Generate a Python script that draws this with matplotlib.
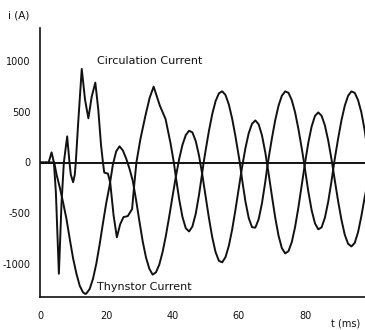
from matplotlib import pyplot as plt

# circulation current (upper label), time in ms and current in A
circ_t = [0, 2.6, 3.5, 4.2, 4.8, 5.7, 6.5, 7.2, 8.2, 8.9, 9.3, 10, 10.5, 10.8, 11.5, 12.6,
          13.6, 14.6, 15.6, 16.7, 17.6, 18.4, 19.0, 19.4, 20.5, 21.2, 22.2, 23.2, 24.2, 25.2,
          26.5, 27.8, 28.5, 29.1, 30.3, 31.8, 33.1, 34.3, 36.2, 37.9, 39.4, 40.4,
          41, 42, 43, 44, 45, 46, 47, 48, 49, 49.4, 50, 51, 52, 53, 54, 55, 56, 57, 58, 59,
          60, 60.3, 61, 62, 63, 64, 65, 66, 67, 68, 68.8, 69, 70, 71, 72, 73, 74, 75, 76, 77,
          78, 79, 79.7, 80, 81, 82, 83, 84, 85, 86, 87, 88, 88.8, 89, 90, 91, 92, 93, 94, 95,
          96, 97, 98, 98.6]
circ_i = [0, 0, 100, 0, -300, -1100, -400, 0, 258, 0, -120, -195, -120, 0, 380, 925,
          620, 437, 650, 790, 520, 180, 0, -100, -110, -200, -520, -740, -610, -540,
          -530, -460, -200, 0, 230, 460, 640, 750, 560, 430, 190, 0,
          -142, -362, -538, -650, -682, -633, -508, -320, -95, 0, 121, 314, 480, 607, 684, 704,
          667, 574, 434, 258,
          61, 0, -167, -384, -549, -640, -644, -561, -403, -191, 0, 41, 239, 418, 562, 660, 703,
          689, 617, 496,
          332, 141, 0, -69, -288, -473, -602, -661, -641, -546, -387, -182, 0, 41, 239, 418,
          562, 660, 703, 689,
          617, 496, 320, 180]

# thyristor current (lower label)
thy_t = [0, 4.3, 5, 6, 7, 8, 9, 10, 11, 12, 13, 13.7, 14, 15, 16, 17, 18, 19, 20, 21, 22,
         23, 24, 25, 26, 27, 28, 29, 30, 31, 32, 33, 34, 35, 36, 37, 38, 39, 40, 41, 42, 43,
         44, 45, 46, 47, 48, 49, 50, 51, 52, 53, 54, 55, 56, 57, 58, 59, 60, 61, 62, 63, 64,
         65, 66, 67, 68, 69, 70, 71, 72, 73, 74, 75, 76, 77, 78, 79, 80, 81, 82, 83, 84, 85,
         86, 87, 88, 89, 90, 91, 92, 93, 94, 95, 96, 97, 98, 98.6]
thy_i = [0, 0, -120, -250, -400, -560, -760, -950, -1100, -1220, -1285, -1300, -1295, -1250,
         -1150, -1000, -810, -600, -400, -230, -20, 110, 160, 120, 40, -60, -180, -370, -580,
         -780, -940, -1050, -1109, -1086, -1010, -886, -723, -535, -336, -142, 33, 174, 271,
         314, 298, 213, 68, -123, -337, -551, -741, -887, -972, -987, -935, -824, -663, -467,
         -255, -45, 141, 290, 383, 416, 378, 269, 100, -108, -331, -545, -723, -846, -899,
         -877, -787, -637, -443, -224, -4, 198, 357, 461, 495, 462, 366, 217, 29, -179, -385,
         -568, -715, -804, -830, -795, -690, -530, -345, -250]

x_ticks = [0, 20, 40, 60, 80]
y_ticks = [1000, 500, 0, -500, -1000]


def plot_it():
	plt.rcParams['axes.unicode_minus'] = False
	plt.rcParams['font.family'] = 'DejaVu Sans'
	fig = plt.figure(figsize=(3.65, 3.30), dpi=100)
	ax = fig.add_axes([40 / 365, 1 - 297 / 330, 1 - 40 / 365, (297 - 28) / 330])

	ax.plot(circ_t, circ_i, color='#111111', lw=1.4)
	ax.plot(thy_t, thy_i, color='#111111', lw=1.4)
	ax.axhline(0, color='#111111', lw=1.4)

	ax.set_xlim(0, 98.1)
	ax.set_ylim(-1330, 1330)
	ax.set_xticks(x_ticks)
	ax.set_yticks(y_ticks)
	ax.tick_params(length=0, labelsize=7, colors='#111111')
	ax.tick_params(axis='x', pad=10)
	ax.tick_params(axis='y', pad=7)
	for side in ['top', 'right']:
		ax.spines[side].set_visible(False)
	for side in ['left', 'bottom']:
		ax.spines[side].set_linewidth(1.2)
		ax.spines[side].set_color('#111111')

	ax.text(17.2, 1000, 'Circulation Current', fontsize=8, va='center', color='#111111')
	ax.text(17.2, -1227, 'Thynstor Current', fontsize=8, va='center', color='#111111')
	fig.text(8 / 365, 1 - 16 / 330, 'i (A)', fontsize=7.5, va='center', color='#111111')
	fig.text(346 / 365, 1 - 323 / 330, 't (ms)', fontsize=7, ha='center', va='center',
		color='#111111')

	fig.savefig('out.png', dpi=100)


plot_it()
